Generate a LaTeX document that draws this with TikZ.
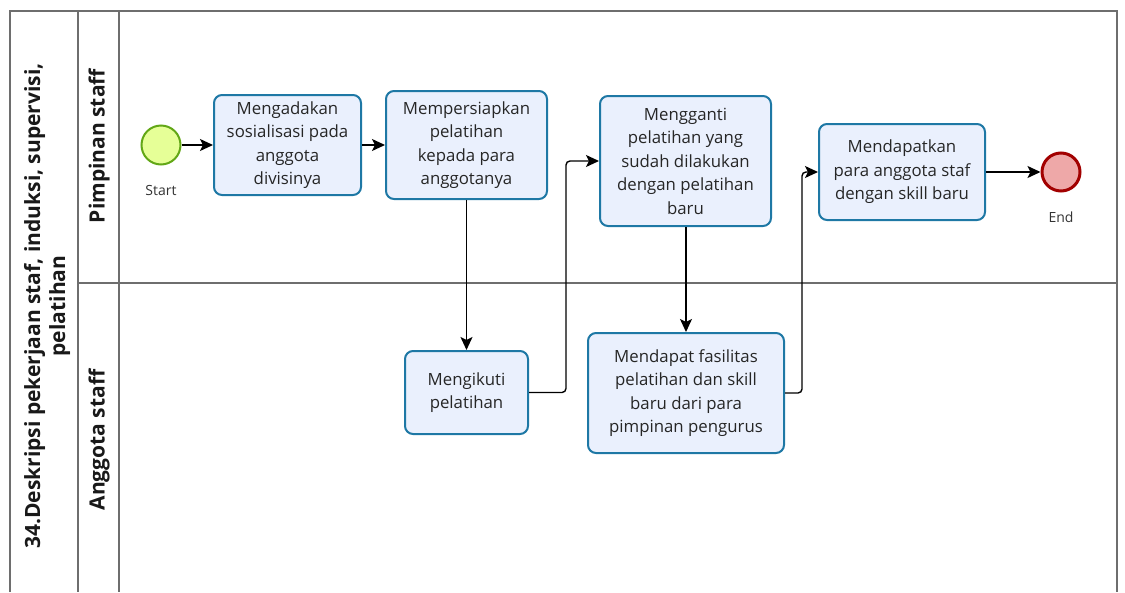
\documentclass[tikz,border=0pt]{standalone}
\usepackage{fontspec}
\setmainfont{Open Sans}
\usetikzlibrary{positioning,calc}
\usetikzlibrary{arrows.meta}
\definecolor{TaskBlue}{RGB}{30,120,165}
\definecolor{TaskFill}{RGB}{234,240,253}
\definecolor{StartGreen}{RGB}{98,167,22}
\definecolor{StartFill}{RGB}{230,255,151}
\definecolor{EndRed}{RGB}{162,0,0}
\definecolor{EndFill}{RGB}{238,168,168}
\definecolor{PoolGray}{RGB}{110,110,110}
\tikzset{
  task/.style={draw=TaskBlue,fill=TaskFill,line width=2pt,rounded corners=8pt,align=center,
    inner sep=2pt,font=\fontsize{16.8}{23.5}\selectfont,text=black!85},
  startev/.style={circle,draw=StartGreen,fill=StartFill,line width=2pt,minimum size=39pt,inner sep=0pt},
  endev/.style={circle,draw=EndRed,fill=EndFill,line width=3pt,minimum size=38pt,inner sep=0pt},
  flow/.style={draw=black,line width=1.4pt,-{Stealth[length=13pt,width=12pt,inset=3pt]},rounded corners=4pt},
  pool/.style={draw=PoolGray,line width=1.3pt},
}
\tikzset{evlab/.style={font=\fontsize{14}{16}\selectfont,text=black!80}, lanelab/.style={rotate=90,font=\bfseries\fontsize{21}{25}\selectfont,align=center,text=black!90}}

\begin{document}
\begin{tikzpicture}[x=1pt,y=-1pt]
\useasboundingbox (0,0) rectangle (1125,592);
% pool and lanes
\draw[pool] (10,592) -- (10,11) -- (1117,11) -- (1117,592);
\draw[pool] (78,11) -- (78,592);
\draw[pool] (119,11) -- (119,592);
\draw[pool] (78,283) -- (1117,283);
\node[lanelab] (pooltitle) at (47,306) {34.Deskripsi pekerjaan staf, induksi, supervisi,\\pelatihan};
\node[lanelab] (lanepim) at (99,146) {Pimpinan staff};
\node[lanelab] (laneang) at (99,440) {Anggota staff};
% events
\node[startev] (st) at (161,145) {};
\node[evlab] (stlab) at (161,190) {Start};
\node[endev] (en) at (1061,172) {};
\node[evlab] (enlab) at (1061,217) {End};
% tasks
\node[task,minimum width=147pt,minimum height=100pt] (t1) at (287.5,145) {Mengadakan\\sosialisasi pada\\anggota\\divisinya};
\node[task,minimum width=161pt,minimum height=108pt] (t2) at (466.5,145) {Mempersiapkan\\pelatihan\\kepada para\\anggotanya};
\node[task,minimum width=171pt,minimum height=130pt] (t3) at (685.5,161) {Mengganti\\pelatihan yang\\sudah dilakukan\\dengan pelatihan\\baru};
\node[task,minimum width=166pt,minimum height=96pt] (t4) at (902,172) {Mendapatkan\\para anggota staf\\dengan skill baru};
\node[task,minimum width=123pt,minimum height=83pt] (t5) at (466.5,392.5) {Mengikuti\\pelatihan};
\node[task,minimum width=196pt,minimum height=120pt] (t6) at (686,393) {Mendapat fasilitas\\pelatihan dan skill\\baru dari para\\pimpinan pengurus};
% flows
\draw[flow] (st) -- (t1);
\draw[flow] (t1) -- (t2);
\draw[flow] (t2.south) -- (t5.north);
\draw[flow] (t5.east) -- ++(37,0) |- (t3.west);
\draw[flow] (t3.south -| t6.north) -- (t6.north);
\draw[flow] (t6.east) -- ++(17,0) |- (t4.west);
\draw[flow] (t4) -- (en);
\end{tikzpicture}
\end{document}
